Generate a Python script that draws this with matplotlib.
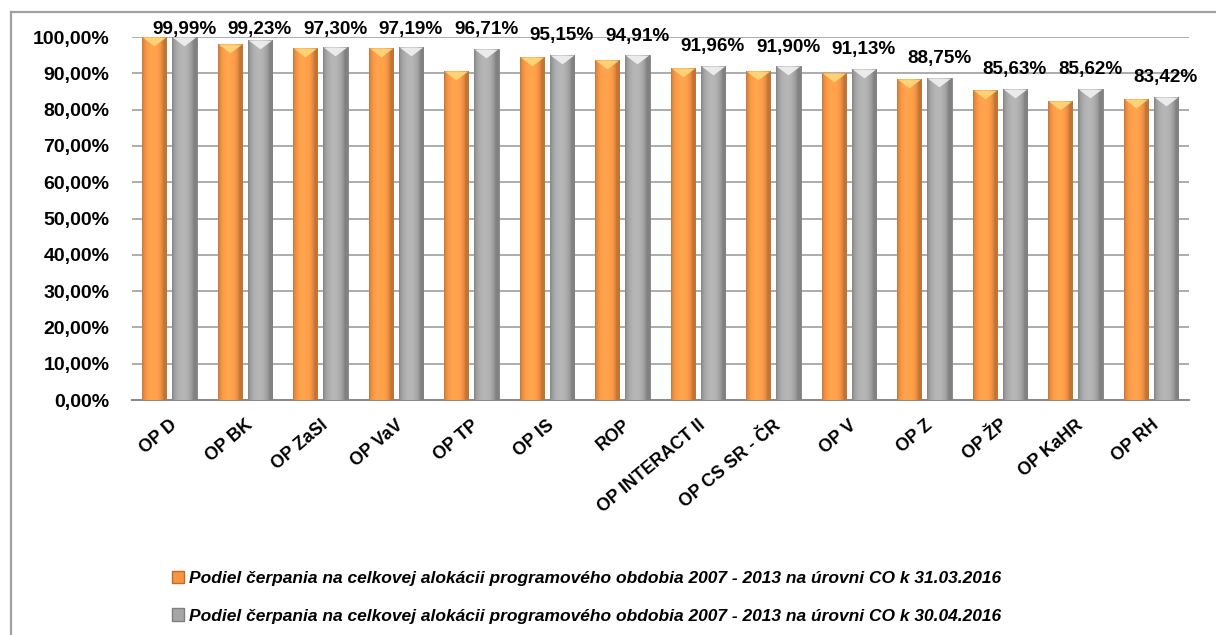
import numpy as np
import matplotlib.pyplot as plt
from matplotlib import font_manager
from matplotlib.path import Path
from matplotlib.patches import Patch
from matplotlib.lines import Line2D

programs = ["OP D", "OP BK", "OP ZaSI", "OP VaV", "OP TP", "OP IS", "ROP",
            "OP INTERACT II", "OP CS SR - ČR", "OP V", "OP Z", "OP ŽP",
            "OP KaHR", "OP RH"]
share_mar = [99.9, 98.1, 96.9, 96.9, 90.7, 94.6, 93.7, 91.6, 90.7, 90.2,
             88.3, 85.4, 82.4, 82.8]
share_apr = [99.99, 99.23, 97.30, 97.19, 96.71, 95.15, 94.91, 91.96, 91.90,
             91.13, 88.75, 85.63, 85.62, 83.42]
yticks = [0, 10, 20, 30, 40, 50, 60, 70, 80, 90, 100]
legend_labels = [
    "Podiel čerpania na celkovej alokácii programového obdobia 2007 - 2013 na úrovni CO k 31.03.2016",
    "Podiel čerpania na celkovej alokácii programového obdobia 2007 - 2013 na úrovni CO k 30.04.2016",
]

names = {f.name for f in font_manager.fontManager.ttflist}
if "Liberation Sans Narrow" in names:
    fam = ["Liberation Sans Narrow", "DejaVu Sans"]
    k = 1.0
else:
    fam = ["Liberation Sans", "DejaVu Sans"]
    k = 0.85
plt.rcParams["font.family"] = fam

orange = np.array([247, 150, 70]) / 255
grey = np.array([166, 166, 166]) / 255


def shade(base):
    t = np.linspace(0, 1, 64)
    f = 0.78 + 0.32 * np.sin(np.pi * np.clip(t * 1.15, 0, 1)) ** 0.6
    img = np.clip(base[None, :] * f[:, None], 0, 1)
    return img[None, :, :]


fig = plt.figure(figsize=(12.16, 6.35), dpi=100)
ax = fig.add_axes([0.1082, 0.37, 0.9775 - 0.1082, 0.5717])

x = np.arange(len(programs))
w = 0.32
tri = Path([(-1, 0), (1, 0), (0, -0.75), (-1, 0)],
           [Path.MOVETO, Path.LINETO, Path.LINETO, Path.CLOSEPOLY])

for vals, off, base, tcol, ecol in [
        (share_mar, -0.2, orange, "#FFD97A", "#C46A22"),
        (share_apr, 0.2, grey, "#F2F2F2", "#7F7F7F")]:
    bars = ax.bar(x + off, vals, w, color=base, edgecolor=ecol, linewidth=0.6, zorder=3)
    for b in bars:
        im = ax.imshow(shade(base), extent=[b.get_x(), b.get_x() + b.get_width(), 0, b.get_height()],
                       aspect="auto", zorder=3.5, interpolation="bilinear")
        im.set_clip_path(b)
    ax.plot(x + off, vals, linestyle="none", marker=tri, markersize=17,
            color=tcol, markeredgewidth=0, alpha=0.9, zorder=4)

for xi, v in zip(x, share_apr):
    ax.text(xi + 0.2, min(v + 3.0, 99.7), f"{v:.2f}%".replace(".", ","),
            ha="center", va="bottom", fontsize=16 * k, fontweight="bold", zorder=5)

ax.set_xlim(-0.5, len(programs) - 0.5)
ax.set_ylim(0, 100)
ax.set_yticks(yticks)
ax.set_yticklabels([f"{t:.2f}%".replace(".", ",") for t in yticks],
                   fontsize=16.5 * k, fontweight="bold")
ax.set_xticks(x)
ax.set_xticklabels(programs, rotation=40, ha="right", va="top", rotation_mode="anchor",
                   fontsize=15 * k, fontweight="bold")
ax.tick_params(axis="both", length=0)
ax.tick_params(axis="y", pad=16)
ax.tick_params(axis="x", pad=12)
ax.grid(axis="y", color="#A6A6A6", linewidth=1.3, zorder=0)
for s in ["left", "right", "top"]:
    ax.spines[s].set_visible(False)
ax.spines["bottom"].set_color("#8C8C8C")
ax.spines["bottom"].set_linewidth(1.5)

handles = [Patch(facecolor=orange, edgecolor="#C46A22"),
           Patch(facecolor=grey, edgecolor="#7F7F7F")]
fig.legend(handles, legend_labels, loc="upper left", bbox_to_anchor=(0.134, 0.115),
           frameon=False, handlelength=0.7, handleheight=0.7, handletextpad=0.3,
           labelspacing=1.3, borderpad=0,
           prop={"size": 14.7 * k, "weight": "bold", "style": "italic", "family": fam})

# outer chart border (left and top edges visible)
fig.add_artist(Line2D([11 / 1216, 11 / 1216], [0, 1 - 12 / 635], color="#A0A0A0", lw=1.6))
fig.add_artist(Line2D([11 / 1216, 1], [1 - 12 / 635, 1 - 12 / 635], color="#A0A0A0", lw=1.6))

fig.savefig("out.png", dpi=100)
